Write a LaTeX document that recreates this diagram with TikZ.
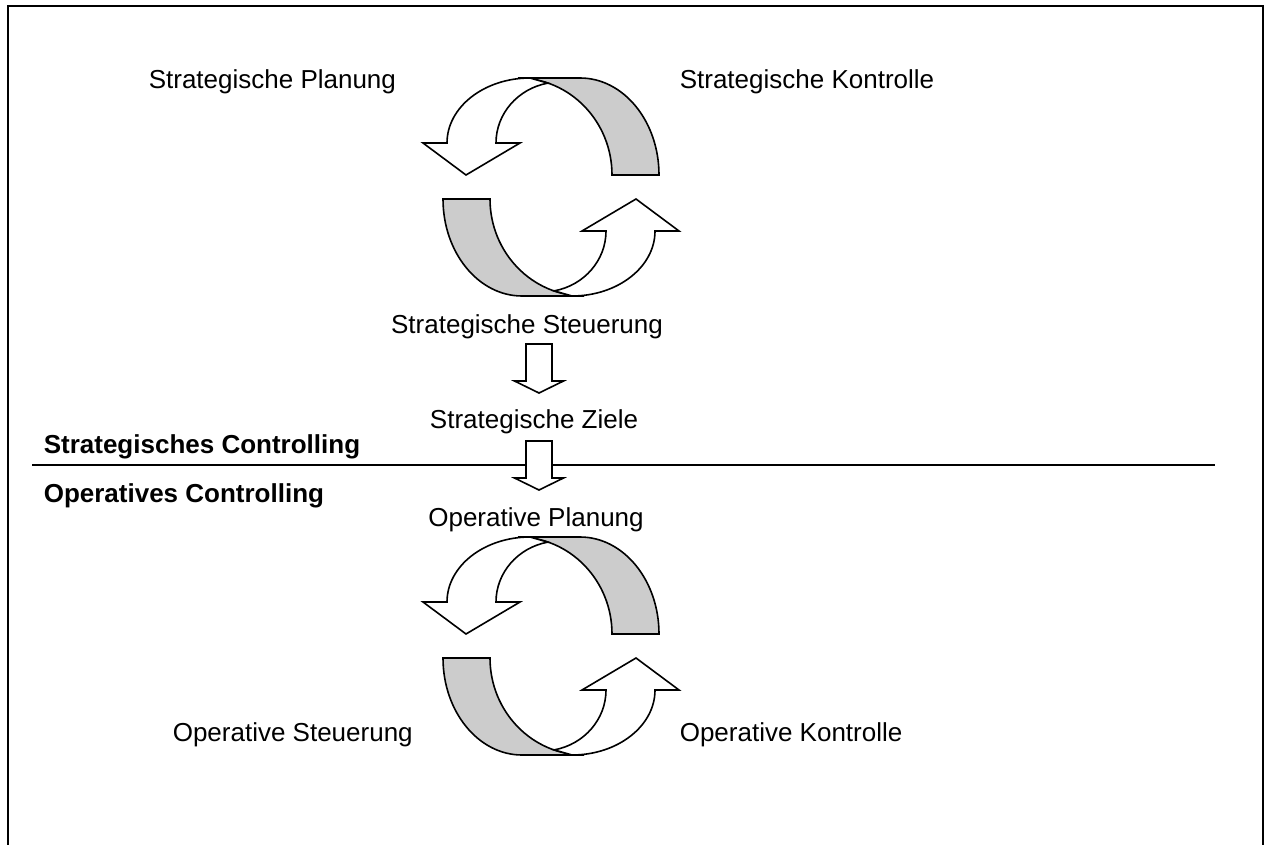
\documentclass[tikz,border=0pt]{standalone}
\usepackage{fontspec}
\setmainfont{Liberation Sans}
\usetikzlibrary{positioning}
\definecolor{bandgray}{RGB}{204,204,204}

\tikzset{
  halfcycle/.pic={
    % back side of the band
    \filldraw[fill=bandgray] (-33,109) -- (29,109)
      arc[start angle=90,end angle=0,x radius=39.5pt,y radius=48.5pt] -- (61,12)
      arc[start angle=0,end angle=90,x radius=47pt,y radius=48.5pt] -- cycle;
    % front side with the head
    \filldraw[fill=white] (-55,44)
      arc[start angle=180,end angle=101,x radius=32pt,y radius=30.5pt] -- (-21,109)
      arc[start angle=90,end angle=180,x radius=41.5pt,y radius=32.5pt]
      -- (-128,44) -- (-85,12) -- (-31,44) -- cycle;
  },
  downarrow/.pic={
    \filldraw[fill=white] (-13,0) -- (13,0) -- (13,-37) -- (24.5,-37) -- (0,-49)
      -- (-24.5,-37) -- (-13,-37) -- cycle;
  }
}

\begin{document}
\begin{tikzpicture}[x=0.5pt, y=0.5pt, line width=0.8pt, line join=miter]
\tikzstyle{lbl}=[font=\fontsize{13}{15}\selectfont, inner sep=0pt]
\tikzstyle{head}=[lbl, font=\fontsize{13}{15}\selectfont\bfseries]
\useasboundingbox (0,0) rectangle (1268,-845);
\draw[line width=1pt] (8,-845) -- (8,-6) -- (1263,-6) -- (1263,-845);

% strategic cycle
\pic at (551,-187) {halfcycle};
\pic[rotate=180] at (551,-187) {halfcycle};

\node[lbl, anchor=base west] (stplan)  at (148,-89)  {Strategische Planung};
\node[lbl, anchor=base west] (stkontr) at (679,-89)  {Strategische Kontrolle};
\node[lbl, anchor=base]      (ststeu)  at (527,-333) {Strategische Steuerung};
\node[lbl, anchor=base]      (stziel)  at (534,-428) {Strategische Ziele};

% divider
\draw (32,-465) -- (1215,-465);
\node[head, anchor=base west] (stcon) at (43,-453) {Strategisches Controlling};
\node[head, anchor=base west] (opcon) at (43,-502) {Operatives Controlling};

\pic at (539,-344) {downarrow};
\pic at (539,-441) {downarrow};

% operative cycle
\pic at (551,-646) {halfcycle};
\pic[rotate=180] at (551,-646) {halfcycle};

\node[lbl, anchor=base]      (opplan)  at (536,-526) {Operative Planung};
\node[lbl, anchor=base west] (opsteu)  at (172,-741) {Operative Steuerung};
\node[lbl, anchor=base west] (opkontr) at (679,-741) {Operative Kontrolle};
\end{tikzpicture}
\end{document}
